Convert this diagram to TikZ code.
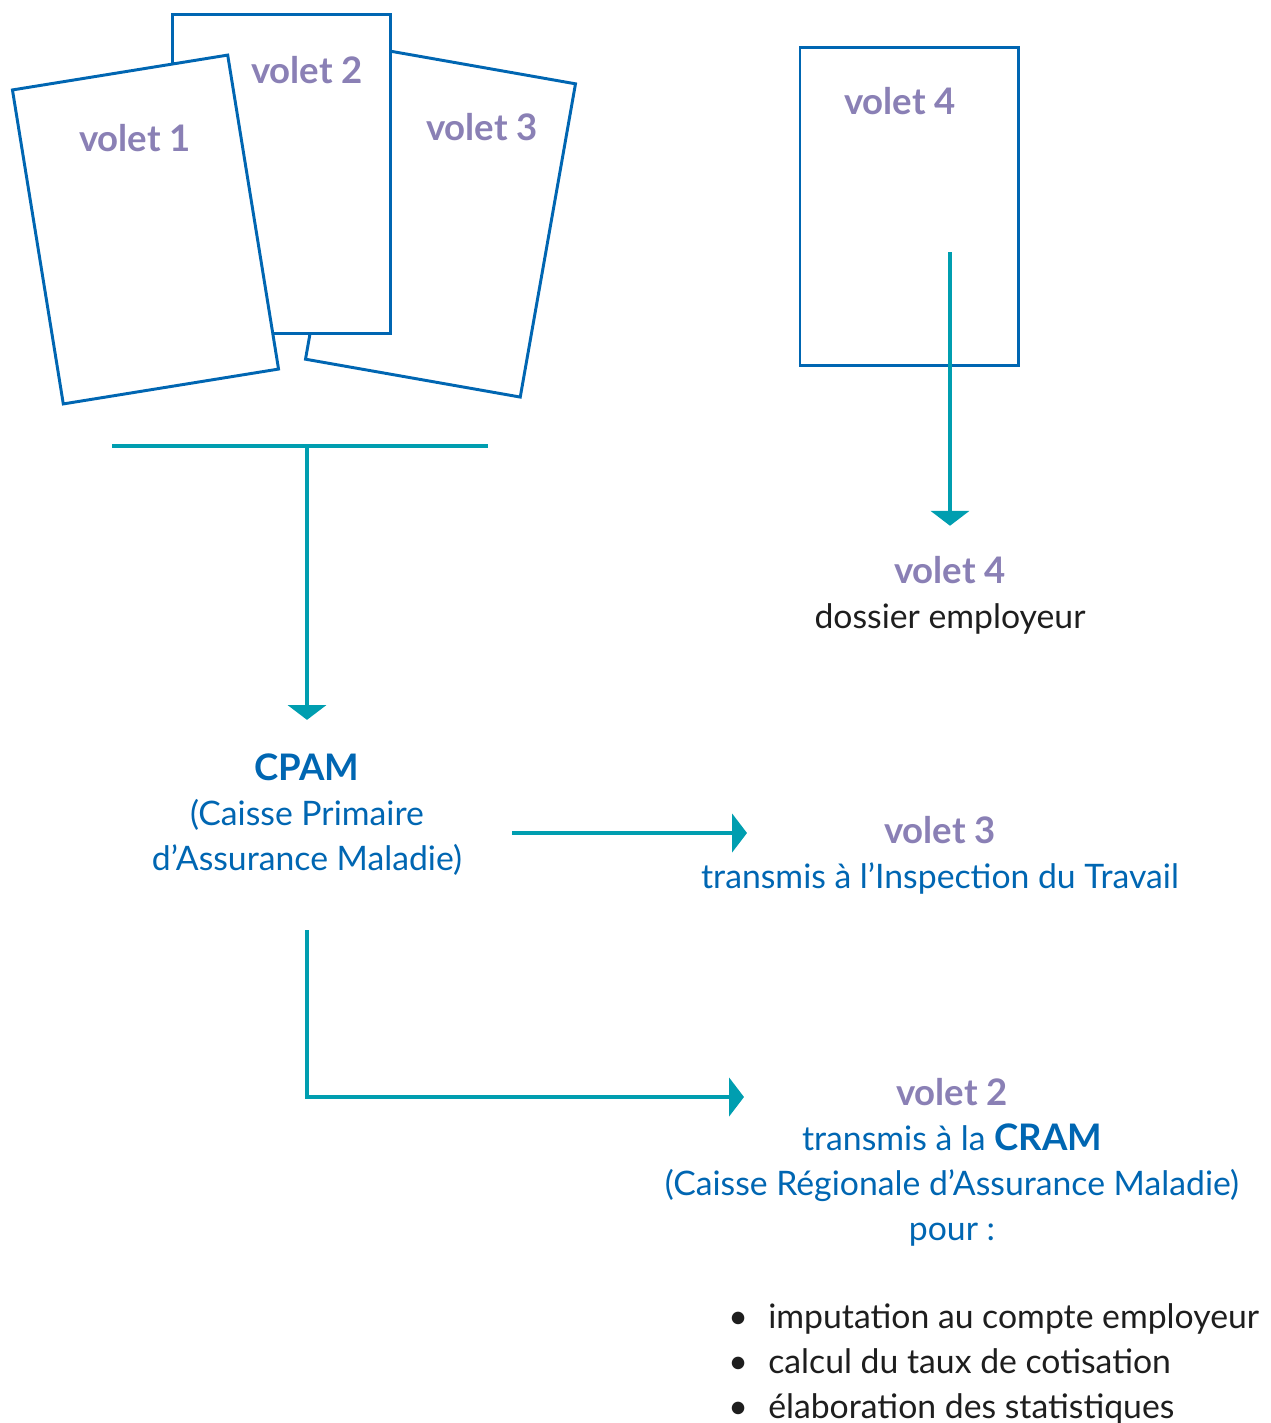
\documentclass[tikz,border=0pt]{standalone}
\usepackage{fontspec}
\setmainfont{Lato}
\usetikzlibrary{arrows.meta}
\definecolor{cpamblue}{RGB}{0,102,178}
\definecolor{voletpurple}{RGB}{138,128,181}
\definecolor{flowteal}{RGB}{0,158,176}
\definecolor{bodytext}{RGB}{30,30,30}
\newcommand{\bigbold}[1]{{\fontsize{26}{32}\selectfont\bfseries #1}}
\newcommand{\vtag}[1]{\textcolor{voletpurple}{\bigbold{#1}}}

\begin{document}
\begin{tikzpicture}[
  x=0.025cm, y=-0.025cm,
  every node/.style={font=\fontsize{24}{32}\selectfont, inner sep=0pt},
  paper/.style={draw=cpamblue, line width=2.1pt, fill=white,
    minimum width=5.45cm, minimum height=7.95cm},
  tag/.style={text=voletpurple, font=\fontsize{26}{32}\selectfont\bfseries},
  info/.style={align=center, text=cpamblue},
  bar/.style={draw=flowteal, line width=3.2pt},
  flow/.style={bar, -{Triangle[width=0.95cm,length=0.37cm]}}
]
  \useasboundingbox (0,0) rectangle (1271,1423);

  % the four sheets of the form
  \node[paper, rotate=-10] (v3) at (440.5,221.5) {};
  \node[paper] (v2) at (281.5,174) {};
  \node[paper, rotate=9.2] (v1) at (145.5,229.5) {};
  \node[paper] (v4) at (909,206.5) {};

  \node[tag] (lab1) at (135,138) {volet 1};
  \node[tag] (lab2) at (307,70) {volet 2};
  \node[tag] (lab3) at (482,127) {volet 3};
  \node[tag] (lab4) at (900,101) {volet 4};

  % where each sheet goes
  \node[info] (cpam) at (307,815)
    {\bigbold{CPAM}\\(Caisse Primaire\\d’Assurance Maladie)};
  \node[info] (tra3) at (940,855)
    {\vtag{volet 3}\\transmis à l’Inspection du Travail};
  \node[info, text=bodytext] (emp) at (950,595)
    {\vtag{volet 4}\\dossier employeur};
  \node[info] (cram) at (952,1162)
    {\vtag{volet 2}\\transmis à la \bigbold{CRAM}\\(Caisse Régionale d’Assurance Maladie)\\pour :};
  \node[align=left, anchor=west, text=bodytext] (uses) at (728,1364)
    {\makebox[1.0cm][l]{\textbullet}imputation au compte employeur\\
     \makebox[1.0cm][l]{\textbullet}calcul du taux de cotisation\\
     \makebox[1.0cm][l]{\textbullet}élaboration des statistiques};

  \coordinate (barL) at (112,446);
  \coordinate (barR) at (488,446);
  \coordinate (barM) at (307,446);
  \coordinate (v4s) at (950,252);
  \coordinate (in3) at (747,833);
  \coordinate (in2) at (744,1097);

  \draw[bar] (barL) -- (barR);
  \draw[flow, shorten >=0.85cm] (barM) -- (cpam.north);
  \draw[flow, shorten >=0.75cm] (v4s) -- (emp.north);
  \draw[flow, shorten <=1.25cm] (cpam.east |- in3) -- (in3);
  \draw[flow, shorten <=1.35cm] (cpam.south) |- (in2);
\end{tikzpicture}
\end{document}
